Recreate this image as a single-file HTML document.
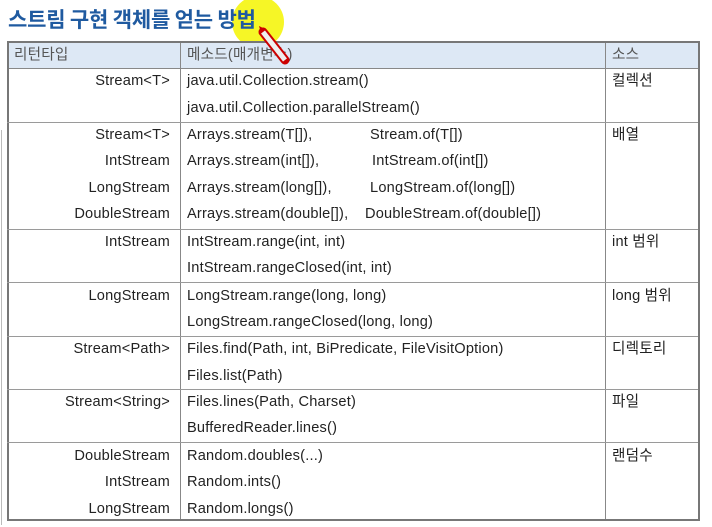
<!DOCTYPE html>
<html><head><meta charset="utf-8">
<style>
body{margin:0;width:712px;height:527px;background:#fff;position:relative;overflow:hidden;font-family:"Liberation Sans","Noto Sans CJK KR",sans-serif;}
.t{position:absolute;font-size:14.6px;color:#222;line-height:16px;white-space:nowrap;letter-spacing:0.2px}
.r{text-align:right;width:160px;left:10px}
.hl{position:absolute;left:7px;width:691px;height:1px;background:#9a9a9a}
.vl{position:absolute;width:1px;background:#b0b0b0}
</style></head><body>
<div style="position:absolute;left:232px;top:-4px;width:52px;height:52px;border-radius:50%;background:#f4f400;opacity:.85"></div>
<div style="position:absolute;left:8px;top:4px;font-size:21px;font-weight:bold;color:#1f5aa0;font-family:'Noto Sans CJK KR',sans-serif;letter-spacing:-0.2px">스트림 구현 객체를 얻는 방법</div>
<div style="position:absolute;left:1px;top:130px;width:1px;height:395px;background:#bbb"></div>
<div style="position:absolute;left:7px;top:41px;width:689px;height:476px;border:2px solid #777;"></div>
<div style="position:absolute;left:9px;top:43px;width:689px;height:25px;background:#dde8f5;border-bottom:1px solid #888"></div>
<div class="vl" style="left:180px;top:43px;height:476px;background:#888"></div>
<div class="vl" style="left:605px;top:43px;height:476px;background:#888"></div>
<div class="t" style="left:14px;top:47px;color:#555">리턴타입</div>
<div class="t" style="left:187px;top:47px;color:#555">메소드(매개변수)</div>
<div class="t" style="left:612px;top:47px;color:#555">소스</div>
<div class="hl" style="top:122px"></div>
<div class="hl" style="top:229px"></div>
<div class="hl" style="top:282px"></div>
<div class="hl" style="top:336px"></div>
<div class="hl" style="top:389px"></div>
<div class="hl" style="top:442px"></div>

<div class="t r" style="top:73px">Stream&lt;T&gt;</div>
<div class="t" style="left:187px;top:73px">java.util.Collection.stream()</div>
<div class="t" style="left:187px;top:100px">java.util.Collection.parallelStream()</div>
<div class="t" style="left:612px;top:73px">컬렉션</div>

<div class="t r" style="top:127px">Stream&lt;T&gt;</div>
<div class="t r" style="top:153px">IntStream</div>
<div class="t r" style="top:180px">LongStream</div>
<div class="t r" style="top:206px">DoubleStream</div>
<div class="t" style="left:187px;top:127px">Arrays.stream(T[]),</div>
<div class="t" style="left:370px;top:127px">Stream.of(T[])</div>
<div class="t" style="left:187px;top:153px">Arrays.stream(int[]),</div>
<div class="t" style="left:372px;top:153px">IntStream.of(int[])</div>
<div class="t" style="left:187px;top:180px">Arrays.stream(long[]),</div>
<div class="t" style="left:370px;top:180px">LongStream.of(long[])</div>
<div class="t" style="left:187px;top:206px">Arrays.stream(double[]),</div>
<div class="t" style="left:365px;top:206px">DoubleStream.of(double[])</div>
<div class="t" style="left:612px;top:127px">배열</div>

<div class="t r" style="top:234px">IntStream</div>
<div class="t" style="left:187px;top:234px">IntStream.range(int, int)</div>
<div class="t" style="left:187px;top:260px">IntStream.rangeClosed(int, int)</div>
<div class="t" style="left:612px;top:234px">int 범위</div>

<div class="t r" style="top:288px">LongStream</div>
<div class="t" style="left:187px;top:288px">LongStream.range(long, long)</div>
<div class="t" style="left:187px;top:314px">LongStream.rangeClosed(long, long)</div>
<div class="t" style="left:612px;top:288px">long 범위</div>

<div class="t r" style="top:341px">Stream&lt;Path&gt;</div>
<div class="t" style="left:187px;top:341px">Files.find(Path, int, BiPredicate, FileVisitOption)</div>
<div class="t" style="left:187px;top:368px">Files.list(Path)</div>
<div class="t" style="left:612px;top:341px">디렉토리</div>

<div class="t r" style="top:394px">Stream&lt;String&gt;</div>
<div class="t" style="left:187px;top:394px">Files.lines(Path, Charset)</div>
<div class="t" style="left:187px;top:420px">BufferedReader.lines()</div>
<div class="t" style="left:612px;top:394px">파일</div>

<div class="t r" style="top:448px">DoubleStream</div>
<div class="t r" style="top:474px">IntStream</div>
<div class="t r" style="top:501px">LongStream</div>
<div class="t" style="left:187px;top:448px">Random.doubles(...)</div>
<div class="t" style="left:187px;top:474px">Random.ints()</div>
<div class="t" style="left:187px;top:501px">Random.longs()</div>
<div class="t" style="left:612px;top:448px">랜덤수</div>

<svg style="position:absolute;left:255px;top:24px" width="40" height="45">
<line x1="8" y1="8" x2="30" y2="36" stroke="#c00" stroke-width="9" stroke-linecap="round"/>
<line x1="8" y1="8" x2="30" y2="36" stroke="#eee" stroke-width="5"/>
<polygon points="4,2 10,5 6,9" fill="#c00"/>
</svg>
</body></html>
